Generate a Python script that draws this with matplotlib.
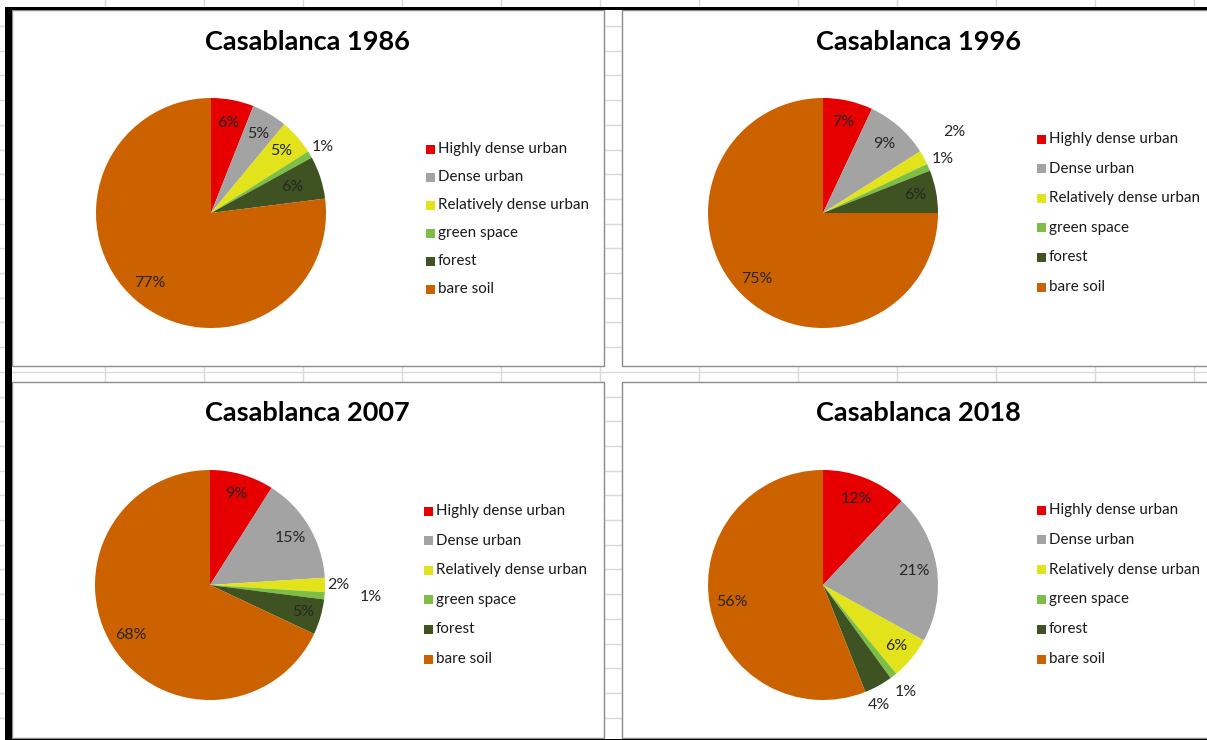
import matplotlib
matplotlib.use('Agg')
import matplotlib.pyplot as plt
from matplotlib.patches import Rectangle
import numpy as np

# ---------------- data ----------------
categories = ["Highly dense urban", "Dense urban", "Relatively dense urban",
              "green space", "forest", "bare soil"]
years = ["1986", "1996", "2007", "2018"]
share_1986 = [6, 5, 5, 1, 6, 77]
share_1996 = [7, 9, 2, 1, 6, 75]
share_2007 = [9, 15, 2, 1, 5, 68]
share_2018 = [12, 21, 6, 1, 4, 56]
colors = ["#E60000", "#A3A3A3", "#E3E31C", "#7DBE45", "#3E5321", "#CC6100"]

# ---------------- layout / style ----------------
plt.rcParams['font.family'] = ['Lato', 'DejaVu Sans']
W, H = 1207, 740
fig = plt.figure(figsize=(W / 100, H / 100), dpi=100)
fig.patch.set_facecolor('white')

bg = fig.add_axes([0, 0, 1, 1], zorder=0)
bg.set_xlim(0, W)
bg.set_ylim(H, 0)
bg.axis('off')

# spreadsheet grid behind the charts
for x in np.arange(105, W, 99):
    bg.plot([x, x], [0, H], color='#dadada', lw=1, zorder=1)
for y in np.arange(26, H, 24.7):
    bg.plot([0, W], [y, y], color='#dadada', lw=1, zorder=1)

boxes = [(12, 10, 604, 366), (622, 10, 1215, 366),
         (12, 382, 604, 738), (622, 382, 1215, 738)]
for (x0, y0, x1, y1) in boxes:
    bg.add_patch(Rectangle((x0, y0), x1 - x0, y1 - y0, facecolor='white',
                           edgecolor='#8c8c8c', lw=1, zorder=2))

# black screenshot frame
bg.add_patch(Rectangle((5, 6.5), W, 3.5, facecolor='black', edgecolor='none', zorder=3))
bg.add_patch(Rectangle((5, 6.5), 7, H, facecolor='black', edgecolor='none', zorder=3))
bg.add_patch(Rectangle((5, 738.5), W, 2, facecolor='black', edgecolor='none', zorder=3))

# label placement style: radial distance (in radii) and angular nudge (deg)
panels = [
    dict(vals=share_1986, year=years[0], c=(211, 213), title=(307, 42),
         leg=(426, 149, 28.0), dist=[0.8, 0.8, 0.81, 1.13, 0.74, 0.81],
         nudge=[0, 0, 0, 0, 0, 0]),
    dict(vals=share_1996, year=years[1], c=(823, 213), title=(918, 42),
         leg=(1037, 139, 29.6), dist=[0.81, 0.8, 1.34, 1.14, 0.82, 0.81],
         nudge=[0, 0, 3, 1, 0, 0]),
    dict(vals=share_2007, year=years[2], c=(210, 585), title=(307, 413),
         leg=(424, 511, 29.6), dist=[0.82, 0.81, 1.12, 1.4, 0.84, 0.81],
         nudge=[0, 0, 0, 1, 0, 0]),
    dict(vals=share_2018, year=years[3], c=(823, 585), title=(918, 413),
         leg=(1037, 510, 29.8), dist=[0.8, 0.8, 0.83, 1.18, 1.15, 0.81],
         nudge=[0, 0, 0, 0, -4, 0]),
]

R = 115
for p in panels:
    cx, cy = p['c']
    ax = fig.add_axes([(cx - 1.5 * R) / W, 1 - (cy + 1.5 * R) / H,
                       3.0 * R / W, 3.0 * R / H], zorder=5)
    wedges, _, autotexts = ax.pie(p['vals'], colors=colors, startangle=90,
                                  counterclock=False, radius=1.0,
                                  autopct=lambda v: f"{v:.0f}%",
                                  pctdistance=0.8,
                                  wedgeprops=dict(linewidth=0),
                                  textprops=dict(fontsize=11.5, color='#262626'))
    ax.set_xlim(-1.5, 1.5)
    ax.set_ylim(-1.5, 1.5)
    ax.set_aspect('auto')
    for w, t, d, n in zip(wedges, autotexts, p['dist'], p['nudge']):
        mid = np.deg2rad((w.theta1 + w.theta2) / 2 + n)
        t.set_position((d * np.cos(mid), d * np.sin(mid)))
        t.set_ha('center')
        t.set_va('center')

    # title
    tx, ty = p['title']
    bg.text(tx, ty, f"Casablanca {p['year']}", ha='center', va='center',
            fontsize=19.5, fontweight='bold', color='black', zorder=4)

    # legend
    lx, ly, dy = p['leg']
    for i, (lab, col) in enumerate(zip(categories, colors)):
        yy = ly + i * dy
        bg.add_patch(Rectangle((lx, yy - 4.5), 9, 9, facecolor=col,
                               edgecolor='none', zorder=4))
        bg.text(lx + 12, yy, lab, ha='left', va='center', fontsize=10.9,
                color='#1a1a1a', zorder=4)

fig.savefig('out.png', dpi=100, facecolor='white')
